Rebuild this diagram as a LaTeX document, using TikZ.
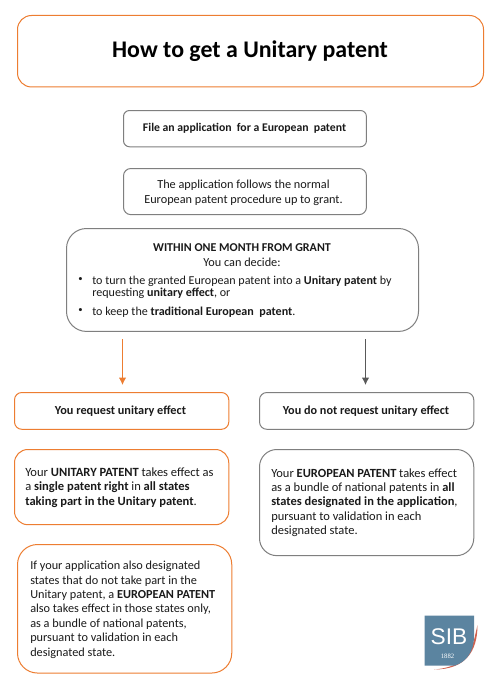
\documentclass[tikz,border=0pt]{standalone}
\usetikzlibrary{arrows.meta}
\usepackage{fontspec}
\setmainfont{Carlito}
\newfontfamily\sibfont{Liberation Sans}
\newfontfamily\serifsib{Liberation Serif}
\definecolor{orangeline}{HTML}{ED7D31}
\definecolor{greyline}{HTML}{7F7F7F}
\definecolor{arrowgrey}{HTML}{595959}
\definecolor{sibblue}{HTML}{5B84A0}
\definecolor{sibred}{HTML}{C8452F}
\definecolor{txt}{HTML}{1A1A1A}
\tikzset{
  box/.style={draw=#1,line width=0.75pt,fill=white,inner sep=0pt,outer sep=0pt,text=txt},
  lab/.style={anchor=west,inner sep=0pt,text=txt,font=\fontsize{8.6pt}{8.6pt}\selectfont},
  cen/.style={anchor=center,inner sep=0pt,text=txt,font=\fontsize{8.6pt}{8.6pt}\selectfont},
  arr/.style={#1,line width=0.75pt,-{Latex[length=5.5pt,width=5.5pt]}}
}
\begin{document}
\begin{tikzpicture}[x=0.75pt,y=-0.75pt]
\useasboundingbox (0,0) rectangle (494,692);
\fill[white] (0,0) rectangle (494,692);
\node[box=orangeline,rounded corners=10.5pt,minimum width=349.5pt,minimum height=53.6pt,anchor=north west] (title) at (17.5,15.5) {};
\node[font=\bfseries\fontsize{17.9pt}{18pt}\selectfont,text=black,inner sep=0pt] (titlet) at (250,51) {How to get a Unitary patent};
\node[box=greyline,rounded corners=4.5pt,minimum width=182.2pt,minimum height=27.2pt,anchor=north west] (file) at (123.5,110.5) {};
\node[cen,font=\bfseries\fontsize{8.8pt}{9pt}\selectfont] (filet) at (244.5,128.5) {File an application\ \ for a European\ \ patent};
\node[box=greyline,rounded corners=5.5pt,minimum width=182.2pt,minimum height=34.6pt,anchor=north west] (proc) at (123.5,168.5) {};
\node[cen,align=center,font=\fontsize{9.2pt}{11.3pt}\selectfont] (proct) at (243.5,192.5) {The application follows the normal\\European patent procedure up to grant.};
\node[box=greyline,rounded corners=15pt,minimum width=264pt,minimum height=77.2pt,anchor=north west] (within) at (66.5,228.5) {};
\node[cen,font=\bfseries\fontsize{9pt}{9pt}\selectfont] (witha) at (242,248) {WITHIN ONE MONTH FROM GRANT};
\node[cen,font=\fontsize{9.2pt}{9.2pt}\selectfont] (withb) at (242,262) {You can decide:};
\node[lab,font=\fontsize{6.5pt}{7pt}\selectfont] (b1) at (78,279.5) {•};
\node[lab,font=\fontsize{9.05pt}{9.2pt}\selectfont] (l1) at (92,281) {to turn the granted European patent into a \textbf{Unitary patent} by};
\node[lab,font=\fontsize{9.05pt}{9.2pt}\selectfont] (l2) at (92,293) {requesting \textbf{unitary effect}, or};
\node[lab,font=\fontsize{6.5pt}{7pt}\selectfont] (b2) at (78,310.5) {•};
\node[lab,font=\fontsize{9.05pt}{9.2pt}\selectfont] (l3) at (92,312) {to keep the \textbf{traditional European\ \ patent}.};
\node[box=orangeline,rounded corners=5.5pt,minimum width=160.7pt,minimum height=27.6pt,anchor=north west] (req) at (14.5,392.5) {};
\node[cen,font=\bfseries\fontsize{9.2pt}{9.2pt}\selectfont] (reqt) at (120.5,411) {You request unitary effect};
\node[box=greyline,rounded corners=5.5pt,minimum width=160.7pt,minimum height=27.6pt,anchor=north west] (noreq) at (259.5,392.5) {};
\node[cen,font=\bfseries\fontsize{9.15pt}{9.2pt}\selectfont] (noreqt) at (366,411) {You do not request unitary effect};
\node[box=orangeline,rounded corners=10pt,minimum width=160.7pt,minimum height=56.4pt,anchor=north west] (up) at (14.5,449.5) {};
\node[lab,align=left,font=\fontsize{9.4pt}{10.8pt}\selectfont,anchor=north west] (upt) at (25,467.5) {Your \textbf{UNITARY PATENT} takes effect as\\a \textbf{single patent right} in \textbf{all states}\\\textbf{taking part in the Unitary patent}.};
\node[box=greyline,rounded corners=13pt,minimum width=160.7pt,minimum height=79.6pt,anchor=north west] (ep) at (259.5,449.5) {};
\node[lab,align=left,font=\fontsize{9.35pt}{10.7pt}\selectfont,anchor=north west] (ept) at (271,468.5) {Your \textbf{EUROPEAN PATENT} takes effect\\as a bundle of national patents in \textbf{all}\\\textbf{states designated in the application},\\pursuant to validation in each\\designated state.};
\node[box=orangeline,rounded corners=15pt,minimum width=160.7pt,minimum height=96.4pt,anchor=north west] (also) at (17.5,544.5) {};
\node[lab,align=left,font=\fontsize{9.2pt}{10.8pt}\selectfont,anchor=north west] (alsot) at (30,561) {If your application also designated\\states that do not take part in the\\Unitary patent, a \textbf{EUROPEAN PATENT}\\also takes effect in those states only,\\as a bundle of national patents,\\pursuant to validation in each\\designated state.};
\coordinate (a1s) at (122.5,339);
\coordinate (a1e) at (122.5,385);
\coordinate (a2s) at (365.5,339);
\coordinate (a2e) at (365.5,385);
\draw[arr=orangeline] (a1s) -- (a1e);
\draw[arr=arrowgrey] (a2s) -- (a2e);
% logo
\fill[sibred!85!white] (477.5,625) .. controls (477.5,652) and (465,669.5) .. (434,669.5) .. controls (452,668) and (468,662) .. (474,640) -- cycle;
\fill[sibblue] (424.5,615.5) -- (474,615.5) -- (474,636) .. controls (474,652) and (466,662) .. (455,665.5) -- (424.5,665.5) -- cycle;
\node[font=\sibfont\fontsize{17pt}{17pt}\selectfont,text=white,inner sep=0pt] (sib) at (449,637) {SIB};
\node[font=\serifsib\fontsize{5pt}{5pt}\selectfont,text=white,inner sep=0pt] (yr) at (447.5,656) {1882};
\end{tikzpicture}
\end{document}
